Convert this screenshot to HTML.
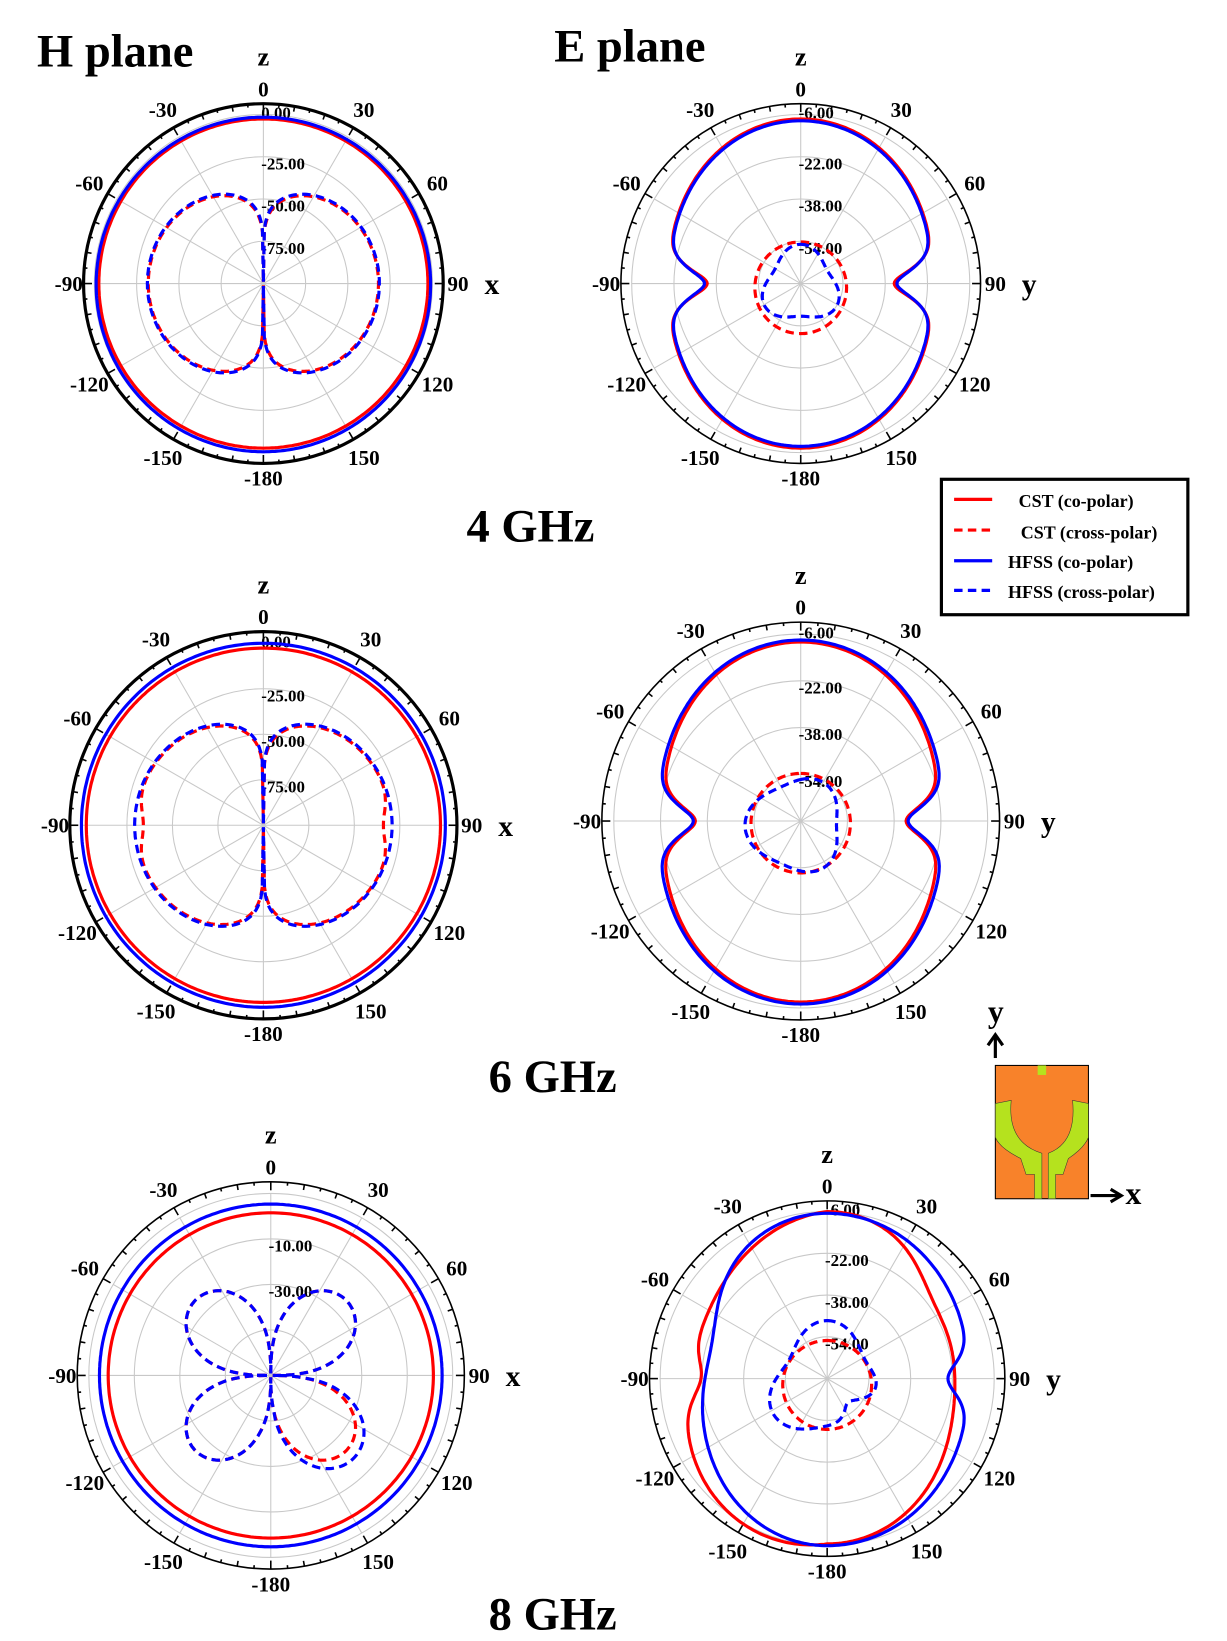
<!DOCTYPE html>
<html><head><meta charset="utf-8"><style>
html,body{margin:0;padding:0;background:#fff;width:1227px;height:1641px;overflow:hidden}
svg{display:block}
text{font-family:"Liberation Serif",serif;font-weight:bold;fill:#000}
</style></head><body>
<svg id="s" width="1227" height="1641" viewBox="0 0 1160 1551" preserveAspectRatio="none" xmlns="http://www.w3.org/2000/svg">
<text x="35" y="63" font-size="44">H plane</text>
<text x="524" y="58" font-size="44">E plane</text>
<text x="441" y="512" font-size="44">4 GHz</text>
<text x="462" y="1032" font-size="44">6 GHz</text>
<text x="462" y="1540" font-size="44">8 GHz</text>
<rect x="890" y="453" width="233" height="128" fill="#fff" stroke="#000" stroke-width="3"/>
<line x1="902" y1="472" x2="938" y2="472" stroke="#f00" stroke-width="3"/>
<line x1="902" y1="501" x2="938" y2="501" stroke="#f00" stroke-width="3" stroke-dasharray="8,5"/>
<line x1="902" y1="530" x2="938" y2="530" stroke="#00f" stroke-width="3"/>
<line x1="902" y1="558" x2="938" y2="558" stroke="#00f" stroke-width="3" stroke-dasharray="8,5"/>
<text x="963" y="479" font-size="17">CST (co-polar)</text>
<text x="965" y="509" font-size="17">CST (cross-polar)</text>
<text x="953" y="537" font-size="17">HFSS (co-polar)</text>
<text x="953" y="565" font-size="17">HFSS (cross-polar)</text>
<g>
<rect x="941" y="1007" width="88" height="126" fill="#f8822a" stroke="#000"/>
<path d="M941 1043 L956 1040 Q952 1080 985 1090 L985 1133 L978 1133 L978 1110 L970 1110 L965 1095 Q945 1085 941 1075Z" fill="#b5e21e" stroke="#333" stroke-width=".5"/>
<path d="M1029 1043 L1014 1040 Q1018 1080 991 1090 L991 1133 L998 1133 L998 1110 L1005 1110 L1010 1095 Q1025 1085 1029 1075Z" fill="#b5e21e" stroke="#333" stroke-width=".5"/>
<rect x="981" y="1007" width="8" height="9" fill="#b5e21e"/>
<line x1="941" y1="1000" x2="941" y2="980" stroke="#000" stroke-width="3"/>
<path d="M934 988 L941 978 L948 988" fill="none" stroke="#000" stroke-width="3"/>
<text x="934" y="966" font-size="30">y</text>
<line x1="1031" y1="1130" x2="1058" y2="1130" stroke="#000" stroke-width="3"/>
<path d="M1050 1124 L1060 1130 L1050 1136" fill="none" stroke="#000" stroke-width="3"/>
<text x="1064" y="1138" font-size="30">x</text>
</g>
<g id="g"></g>
</svg>
<script>
var g=document.getElementById('g'),NS='http://www.w3.org/2000/svg';
function el(t,a,txt){var e=document.createElementNS(NS,t);for(var k in a)e.setAttribute(k,a[k]);if(txt!==undefined)e.textContent=txt;g.appendChild(e);return e;}
var D=Math.PI/180;
function gs(x,m,w){return Math.exp(-Math.pow(x-m,2)/(2*w*w));}
function ad(t){t=((t%360)+360)%360;return t;}
function chart(o){
 var cx=o.cx,cy=o.cy,R=o.R;
 for(var i=1;i<=4;i++)el('circle',{cx:cx,cy:cy,r:R*o.rg*i/4,fill:'none',stroke:'#c8c8c8','stroke-width':1});
 for(var a=0;a<360;a+=30)el('line',{x1:cx,y1:cy,x2:cx+R*o.rg*Math.sin(a*D),y2:cy-R*o.rg*Math.cos(a*D),stroke:'#c8c8c8','stroke-width':1});
 el('circle',{cx:cx,cy:cy,r:R,fill:'none',stroke:'#000','stroke-width':o.thick?3:1.5});
 for(var a=0;a<360;a+=5){var L=a%30==0?8:(a%10==0?5:3);
  el('line',{x1:cx+R*Math.sin(a*D),y1:cy-R*Math.cos(a*D),x2:cx+(R-L)*Math.sin(a*D),y2:cy-(R-L)*Math.cos(a*D),stroke:'#000','stroke-width':1.5});}
 var labs=['0','30','60','90','120','150','-180','-150','-120','-90','-60','-30'];
 for(var i=0;i<12;i++){var a=i*30,rr=R+(i%3==0?14:20);
  el('text',{x:cx+rr*Math.sin(a*D),y:cy-rr*Math.cos(a*D)+7,'font-size':20,'text-anchor':'middle'},labs[i]);}
 for(var i=0;i<o.rl.length;i++)el('text',{x:cx-2,y:cy-R*o.rg*(4-i)/4+(i==0?-2:6)+6,'font-size':16},o.rl[i]);
 el('text',{x:cx,y:cy-R-36,'font-size':25,'text-anchor':'middle'},o.ax[0]);
 el('text',{x:cx+R+46,y:cy+10,'font-size':28,'text-anchor':'middle'},o.ax[1]);
 o.cv.forEach(function(c){var d='';for(var t=0;t<=360;t+=1){var r=c.f(t)*R;var x=cx+(c.dx||0)+r*Math.sin(t*D),y=cy+(c.dy||0)-r*Math.cos(t*D);d+=(t?'L':'M')+x.toFixed(1)+' '+y.toFixed(1);}
  var a={d:d+'Z',fill:'none',stroke:c.c,'stroke-width':3};if(c.dash)a['stroke-dasharray']='8,5';el('path',a);});
}
function hcross(s,p){return function(t){var v=s*Math.pow(Math.abs(Math.sin(t*D)),p);return Math.max(v,0.01);};}
function eco(top,side,notch,bot){return function(t){var s=Math.sin(t*D),c=Math.cos(t*D);var b=(c>0?top:bot)*c*c+side*s*s;var n=Math.min(Math.abs(ad(t)-90),Math.abs(ad(t)-270));return b-notch*gs(n,0,7);};}
chart({cx:249,cy:268,R:170,rg:0.94,thick:1,rl:['0.00','-25.00','-50.00','-75.00'],ax:['z','x'],cv:[
 {c:'#f00',f:function(t){return 0.915;}},
 {c:'#00f',f:function(t){return 0.925+0.01*(1-Math.cos(t*D))/2;}},
 {c:'#f00',dash:1,f:hcross(0.64,0.2)},
 {c:'#00f',dash:1,f:hcross(0.645,0.19)}]});
chart({cx:757,cy:268,R:170,rg:0.94,rl:['-6.00','-22.00','-38.00','-54.00'],ax:['z','y'],cv:[
 {c:'#f00',f:eco(0.915,0.74,0.22,0.915)},
 {c:'#00f',f:eco(0.905,0.735,0.2,0.905)},
 {c:'#f00',dash:1,dy:4,f:function(t){return 0.255;}},
 {c:'#00f',dash:1,dy:2,f:function(t){return 0.2+0.03*Math.cos(3*t*D);}}]});
chart({cx:249,cy:780,R:183,rg:0.94,thick:1,rl:['0.00','-25.00','-50.00','-75.00'],ax:['z','x'],cv:[
 {c:'#f00',f:function(t){return 0.915;}},
 {c:'#00f',f:function(t){return 0.94;}},
 {c:'#f00',dash:1,f:function(t){var n=Math.min(Math.abs(ad(t)-90),Math.abs(ad(t)-270));return hcross(0.66,0.18)(t)-0.04*gs(n,0,8);}},
 {c:'#00f',dash:1,f:hcross(0.665,0.17)}]});
chart({cx:757,cy:776,R:188,rg:0.94,rl:['-6.00','-22.00','-38.00','-54.00'],ax:['z','y'],cv:[
 {c:'#f00',f:eco(0.9,0.7,0.17,0.91)},
 {c:'#00f',f:eco(0.91,0.72,0.18,0.92)},
 {c:'#f00',dash:1,dy:2,f:function(t){return 0.25;}},
 {c:'#00f',dash:1,dy:4,f:function(t){return 0.23+0.05*Math.cos(2*t*D)*Math.sin(t*D);}}]});
chart({cx:256,cy:1300,R:183,rg:0.94,rl:['','-10.00','-30.00',''],ax:['z','x'],cv:[
 {c:'#f00',f:function(t){return 0.84;}},
 {c:'#00f',f:function(t){return 0.885;}},
 {c:'#f00',dash:1,f:function(t){return Math.max(0.01,0.55*Math.pow(Math.abs(Math.sin(2*t*D)),0.6));}},
 {c:'#00f',dash:1,f:function(t){var b=0.55*Math.pow(Math.abs(Math.sin(2*t*D)),0.6);if(ad(t)>95&&ad(t)<175)b*=1.1;return Math.max(0.01,b);}}]});
chart({cx:782,cy:1303,R:168,rg:0.94,rl:['-6.00','-22.00','-38.00','-54.00'],ax:['z','y'],cv:[
 {c:'#f00',f:function(t){var s=Math.sin(t*D),c=Math.cos(t*D),a=ad(t);var b=(c>0?0.94:0.93)*c*c+(s>0?0.72:0.78)*s*s;b+=0.06*Math.sin(2*t*D)*(a>180?1:0);b-=0.07*gs(Math.abs(a-270),0,8);b-=0.06*gs(Math.abs(a-50),0,15);return b;}},
 {c:'#00f',f:function(t){var s=Math.sin(t*D),c=Math.cos(t*D),a=ad(t);var b=(c>0?0.93:0.94)*c*c+(s>0?0.8:0.72)*s*s;b-=0.12*gs(Math.abs(a-90),0,7);b-=0.06*gs(Math.abs(a-290),0,18);return b;}},
 {c:'#f00',dash:1,dy:6,f:function(t){return 0.25;}},
 {c:'#00f',dash:1,dy:4,f:function(t){return 0.3+0.05*Math.cos(3*t*D)-0.18*gs(Math.abs(ad(t)-130),0,20);}}]});
</script>
</body></html>
